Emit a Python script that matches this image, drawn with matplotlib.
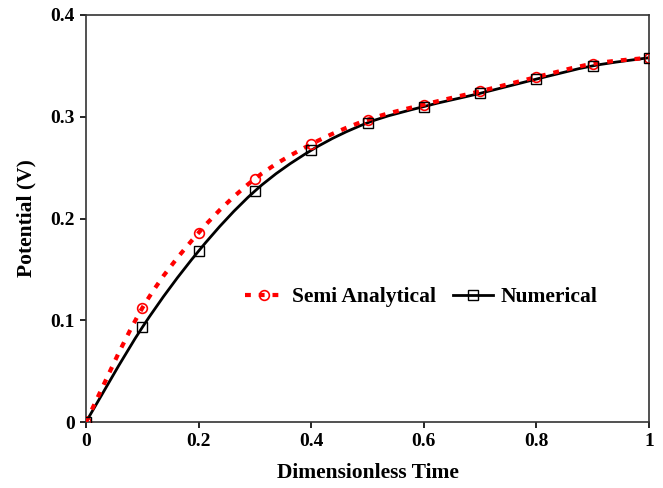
import numpy as np
import matplotlib
matplotlib.use("Agg")
import matplotlib.pyplot as plt
from matplotlib.path import Path
from matplotlib.patches import PathPatch
from matplotlib.lines import Line2D

time = [0.0, 0.1, 0.2, 0.3, 0.4, 0.5, 0.6, 0.7, 0.8, 0.9, 1.0]
semi_analytical = [0.0, 0.112, 0.186, 0.239, 0.273, 0.297, 0.312, 0.325, 0.339, 0.352, 0.358]
numerical = [0.0, 0.093, 0.168, 0.227, 0.267, 0.294, 0.310, 0.323, 0.337, 0.350, 0.358]
xticks = [0, 0.2, 0.4, 0.6, 0.8, 1.0]
xticklabels = ["0", "0.2", "0.4", "0.6", "0.8", "1"]
yticks = [0, 0.1, 0.2, 0.3, 0.4]
yticklabels = ["0", "0.1", "0.2", "0.3", "0.4"]

plt.rcParams['font.family'] = ['Liberation Serif', 'DejaVu Serif']
plt.rcParams['font.weight'] = 'bold'


def smooth_path(x, y):
    x = np.asarray(x, float)
    y = np.asarray(y, float)
    n = len(x)
    verts = [(x[0], y[0])]
    codes = [Path.MOVETO]
    for i in range(n - 1):
        p0 = np.array([x[max(i - 1, 0)], y[max(i - 1, 0)]])
        p1 = np.array([x[i], y[i]])
        p2 = np.array([x[i + 1], y[i + 1]])
        p3 = np.array([x[min(i + 2, n - 1)], y[min(i + 2, n - 1)]])
        c1 = p1 + (p2 - p0) / 6.0
        c2 = p2 - (p3 - p1) / 6.0
        verts += [tuple(c1), tuple(c2), tuple(p2)]
        codes += [Path.CURVE4] * 3
    return Path(verts, codes)


fig = plt.figure(figsize=(6.63, 4.88), dpi=100)
ax = fig.add_axes([0.1297, 0.1352, 0.8492, 0.8341])

red = '#ff0000'
dash = (0, (1.4, 1.9))
ax.add_patch(PathPatch(smooth_path(time, semi_analytical), fill=False,
                       edgecolor=red, lw=3.0, linestyle=dash,
                       capstyle='butt', zorder=3))
ax.add_patch(PathPatch(smooth_path(time, numerical), fill=False,
                       edgecolor='black', lw=2.0, zorder=2))
ax.plot(time, semi_analytical, linestyle='none', marker='o', markersize=7,
        markerfacecolor='none', markeredgecolor=red, markeredgewidth=1.2, zorder=4)
ax.plot(time, numerical, linestyle='none', marker='s', markersize=7,
        markerfacecolor='none', markeredgecolor='black', markeredgewidth=1.0, zorder=4)

ax.set_xlim(0, 1)
ax.set_ylim(0, 0.4)
ax.set_xticks(xticks)
ax.set_xticklabels(xticklabels)
ax.set_yticks(yticks)
ax.set_yticklabels(yticklabels)
ax.tick_params(direction='out', length=4, width=1.2, labelsize=14, pad=4)
for s in ax.spines.values():
    s.set_linewidth(1.2)
    s.set_color('#333333')

ax.set_xlabel('Dimensionless Time', fontsize=15.5, fontweight='bold', labelpad=9)
ax.set_ylabel('Potential (V)', fontsize=15.5, fontweight='bold', labelpad=10)

handles = [
    Line2D([], [], color=red, lw=3.0, linestyle=dash, marker='o',
           markersize=7, markerfacecolor='none', markeredgecolor=red, markeredgewidth=1.2),
    Line2D([], [], color='black', lw=2.0, marker='s', markersize=7,
           markerfacecolor='none', markeredgecolor='black', markeredgewidth=1.0),
]
ax.legend(handles, ['Semi Analytical', 'Numerical'], loc='center',
          bbox_to_anchor=(0.595, 0.307), ncol=2, frameon=False,
          prop={'size': 15.5, 'weight': 'bold'}, handlelength=1.85,
          columnspacing=0.8, handletextpad=0.35)

fig.savefig('out.png', dpi=100)
